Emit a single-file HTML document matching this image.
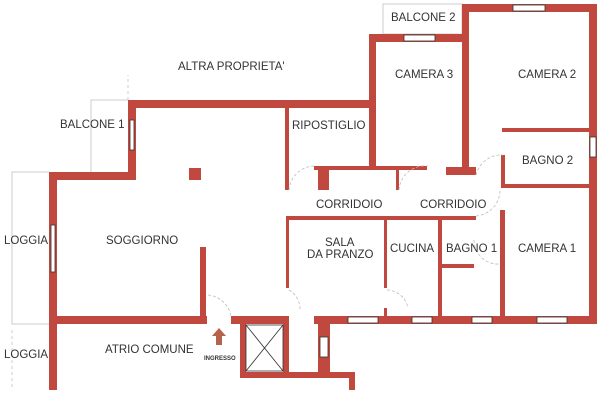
<!DOCTYPE html>
<html><head><style>body{margin:0;background:#fff}svg{display:block}text{font-family:"Liberation Sans",sans-serif;fill:#333;font-size:11.5px}</style></head><body>
<svg width="600" height="400" viewBox="0 0 600 400" xmlns="http://www.w3.org/2000/svg">
<g fill="none" stroke="#ccc" stroke-width="1">
<rect x="383" y="4" width="79" height="30"/>
<polyline points="128,100 91,100 91,172"/>
<polyline points="49,172 12,172 12,324 49,324"/>
<line x1="128" y1="100" x2="128" y2="75" stroke-dasharray="3,3"/>
<line x1="12" y1="330" x2="12" y2="390" stroke-dasharray="3,3"/>
</g>
<g fill="#c0483e">
<rect x="128" y="100" width="248" height="8"/>
<rect x="369" y="34" width="7" height="136"/>
<rect x="369" y="34" width="100" height="8"/>
<rect x="462" y="4" width="7" height="171"/>
<rect x="462" y="4" width="135" height="8"/>
<rect x="589" y="4" width="8" height="320"/>
<rect x="128" y="100" width="8" height="80"/>
<rect x="49" y="172" width="87" height="8"/>
<rect x="49" y="172" width="8" height="218"/>
<rect x="57" y="316" width="150" height="8"/>
<rect x="200" y="247" width="6" height="77"/>
<rect x="189" y="168" width="12" height="12"/>
<rect x="285" y="108" width="4" height="82"/>
<rect x="314" y="166" width="62" height="4"/>
<rect x="318" y="170" width="11" height="20"/>
<rect x="396" y="170" width="3" height="20"/>
<rect x="376" y="166" width="51" height="4"/>
<rect x="446" y="167" width="30" height="8"/>
<rect x="502" y="128" width="87" height="4"/>
<rect x="501" y="155" width="4" height="33"/>
<rect x="502" y="184" width="87" height="4"/>
<rect x="289" y="216" width="187" height="4"/>
<rect x="286" y="216" width="3" height="72"/>
<rect x="384" y="220" width="3" height="68"/>
<rect x="384" y="308" width="3" height="10"/>
<rect x="438" y="220" width="4" height="98"/>
<rect x="442" y="264" width="32" height="4"/>
<rect x="500" y="210" width="5" height="108"/>
<rect x="314" y="316" width="283" height="8"/>
<rect x="231" y="316" width="56" height="8"/>
<rect x="240" y="316" width="6" height="62"/>
<rect x="240" y="372" width="47" height="6"/>
<rect x="283" y="316" width="6" height="62"/>
<rect x="318" y="324" width="12" height="50"/>
<rect x="289" y="372" width="66" height="6"/>
<rect x="349" y="372" width="6" height="18"/>
</g>
<g fill="#fff" stroke="#333" stroke-width="0.8">
<rect x="404" y="35" width="31" height="6"/>
<rect x="513" y="5" width="32" height="6"/>
<rect x="130" y="120" width="4" height="30"/>
<rect x="51" y="225" width="4" height="47"/>
<rect x="590" y="137" width="6" height="20"/>
<rect x="348" y="317" width="30" height="6"/>
<rect x="412" y="317" width="20" height="6"/>
<rect x="472" y="317" width="20" height="6"/>
<rect x="537" y="317" width="30" height="6"/>
<rect x="320" y="337" width="8" height="20"/>
<rect x="246" y="325" width="37" height="46"/>
<line x1="246" y1="325" x2="283" y2="371"/><line x1="283" y1="325" x2="246" y2="371"/>
</g>
<g fill="none" stroke="#bbb" stroke-width="0.8" stroke-dasharray="3,2">
<path d="M208 295 A25 25 0 0 1 231 318"/>
<path d="M289 190 A26 26 0 0 1 314 166"/>
<path d="M399 190 A26 26 0 0 1 428 166"/>
<path d="M476 175 A26 26 0 0 1 503 155"/>
<path d="M476 216 A26 26 0 0 0 500 190"/>
<path d="M474 240 A24 24 0 0 0 500 264"/>
<path d="M387 290 A22 22 0 0 1 408 308"/>
<path d="M289 290 A22 22 0 0 1 300 310"/>
</g>
<polygon points="219,328 226,336 222,336 222,345 216,345 216,336 212,336" fill="#b5634a"/>
<text x="178" y="70">ALTRA PROPRIETA'</text>
<text x="391" y="21">BALCONE 2</text>
<text x="395" y="78">CAMERA 3</text>
<text x="518" y="78">CAMERA 2</text>
<text x="60" y="128">BALCONE 1</text>
<text x="292" y="129">RIPOSTIGLIO</text>
<text x="522" y="164">BAGNO 2</text>
<text x="316" y="208">CORRIDOIO</text>
<text x="420" y="208">CORRIDOIO</text>
<text x="4" y="244">LOGGIA</text>
<text x="106" y="244">SOGGIORNO</text>
<text x="325" y="246">SALA</text>
<text x="307" y="258">DA PRANZO</text>
<text x="390" y="252">CUCINA</text>
<text x="446" y="252">BAGNO 1</text>
<text x="518" y="252">CAMERA 1</text>
<text x="4" y="358">LOGGIA</text>
<text x="105" y="353">ATRIO COMUNE</text>
<text x="204" y="360" style="font-size:6px;font-weight:bold">INGRESSO</text>
</svg>
</body></html>
